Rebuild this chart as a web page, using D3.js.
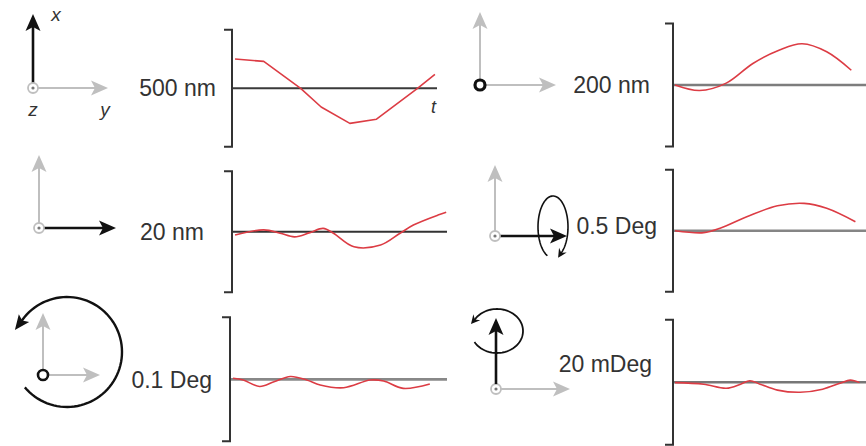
<!DOCTYPE html>
<html><head><meta charset="utf-8">
<script src="https://cdn.jsdelivr.net/npm/d3@7"></script>
<style>body{margin:0;background:#fff}svg{display:block}</style>
</head><body>
<svg id="c" width="866" height="446"></svg>
<script>
// ---- data ----
const scaleLabels = ["500 nm", "200 nm", "20 nm", "0.5 Deg", "0.1 Deg", "20 mDeg"];
const scaleSpans  = [500, 200, 20, 0.5, 0.1, 20];
const timeDomain  = [0, 10];

const t1 = [0.1, 1.5, 3.3, 4.3, 5.7, 7.0, 9.0, 9.85];
const v1 = [125, 115, 0, -80, -150, -132, 0, 60];

const t2 = [0, 1.2, 2.5, 3.8, 5.1, 6.2, 7.4, 8.6];
const v2 = [0, -9, 3, 35, 57, 67, 54, 24];

const t3 = [0.1, 1.5, 2.3, 3.0, 3.75, 4.4, 4.9, 5.9, 7.2, 8.15, 8.8, 10.0, 10.4];
const v3 = [-0.55, 0.3, -0.25, -0.85, -0.15, 0.55, -0.25, -2.5, -2.2, -0.25, 1.1, 2.75, 3.2];

const t4 = [0, 1.4, 2.2, 3.5, 5.0, 6.3, 7.4, 8.8];
const v4 = [0, -0.008, 0.01, 0.057, 0.102, 0.112, 0.092, 0.037];

const t5 = [0, 0.5, 1.3, 2.0, 2.8, 3.6, 4.25, 5.4, 6.7, 7.35, 8.3, 9.6];
const v5 = [0.0008, -0.0006, -0.0058, -0.002, 0.0023, -0.0006, -0.0046, -0.0068, -0.0006, -0.0014, -0.0073, -0.0038];

const t6 = [0, 1.4, 2.5, 3.2, 3.65, 4.15, 5.0, 6.1, 7.2, 8.05, 8.55, 9.0];
const v6 = [-0.05, -0.3, -0.95, -0.3, 0.25, -0.3, -1.25, -1.6, -1.1, -0.15, 0.35, -0.05];

const times  = [t1, t2, t3, t4, t5, t6];
const values = [v1, v2, v3, v4, v5, v6];

// ---- layout ----
const geom = [
  {bx: 232, zero: 88.3,  half: 58.5, end: 437, x0: 233, zc: "#3a3a3a", zw: 2,   curve: d3.curveLinear,     lx: 216, ly: 96},
  {bx: 673, zero: 85,    half: 61.5, end: 866, x0: 675, zc: "#7d7d7d", zw: 2.6, curve: d3.curveCatmullRom, lx: 650, ly: 93},
  {bx: 232, zero: 231.7, half: 60.5, end: 447, x0: 233, zc: "#333",    zw: 2,   curve: d3.curveCatmullRom, lx: 204, ly: 240},
  {bx: 673, zero: 230.7, half: 61,   end: 866, x0: 675, zc: "#858585", zw: 2.6, curve: d3.curveCatmullRom, lx: 657, ly: 234},
  {bx: 230, zero: 379.3, half: 62,   end: 447, x0: 233, zc: "#888",    zw: 2.8, curve: d3.curveCatmullRom, lx: 212, ly: 388},
  {bx: 673, zero: 382.3, half: 62.5, end: 866, x0: 675, zc: "#777",    zw: 2.4, curve: d3.curveCatmullRom, lx: 652, ly: 372}
];

const svg = d3.select("#c");
const FONT = "'Liberation Sans', Arial, Helvetica, sans-serif";
const RED = "#dc3c44";
const GRAY = "#bfbfbf";

geom.forEach((g, i) => {
  const x = d3.scaleLinear().domain(timeDomain).range([g.x0, g.x0 + 205]);
  const S = scaleSpans[i];
  const y = d3.scaleLinear().domain([-S / 2, S / 2]).range([g.zero + g.half, g.zero - g.half]);
  const G = svg.append("g");
  // zero line
  G.append("line").attr("x1", g.bx).attr("x2", g.end)
    .attr("y1", y(0)).attr("y2", y(0))
    .attr("stroke", g.zc).attr("stroke-width", g.zw);
  // scale bracket
  const yt = y(S / 2), yb = y(-S / 2);
  G.append("path")
    .attr("d", `M${g.bx - 8},${yt}H${g.bx}V${yb}H${g.bx - 8}`)
    .attr("fill", "none").attr("stroke", "#333").attr("stroke-width", 2);
  // label
  G.append("text").attr("x", g.lx).attr("y", g.ly).attr("text-anchor", "end")
    .attr("font-family", FONT).attr("font-size", 23).attr("fill", "#333")
    .text(scaleLabels[i]);
  // data line
  const pts = times[i].map((t, k) => [t, values[i][k]]);
  G.append("path").datum(pts)
    .attr("d", d3.line().x(d => x(d[0])).y(d => y(d[1])).curve(g.curve))
    .attr("fill", "none").attr("stroke", RED).attr("stroke-width", 1.6)
    .attr("stroke-linejoin", "round");
});

// "t" time label
svg.append("text").attr("x", 431).attr("y", 113).attr("font-family", FONT)
  .attr("font-style", "italic").attr("font-size", 18).attr("fill", "#333").text("t");

// ---- icons ----
function arrow(x1, y1, x2, y2, color, w) {
  const a = Math.atan2(y2 - y1, x2 - x1), dx = Math.cos(a), dy = Math.sin(a);
  const L = 17, W = 7.5, N = 4;
  svg.append("line").attr("x1", x1).attr("y1", y1)
    .attr("x2", x2 - (L - N) * dx).attr("y2", y2 - (L - N) * dy)
    .attr("stroke", color).attr("stroke-width", w);
  const p = [[x2, y2], [x2 - L * dx - W * dy, y2 - L * dy + W * dx],
             [x2 - (L - N) * dx, y2 - (L - N) * dy], [x2 - L * dx + W * dy, y2 - L * dy - W * dx]];
  svg.append("path").attr("d", "M" + p.join("L") + "Z").attr("fill", color);
}
function originGray(cx, cy) {
  svg.append("circle").attr("cx", cx).attr("cy", cy).attr("r", 5)
    .attr("fill", "#fff").attr("stroke", GRAY).attr("stroke-width", 1.8);
  svg.append("circle").attr("cx", cx).attr("cy", cy).attr("r", 1.6).attr("fill", "#777");
}
function originBlack(cx, cy, sw) {
  svg.append("circle").attr("cx", cx).attr("cy", cy).attr("r", 5)
    .attr("fill", "#fff").attr("stroke", "#111").attr("stroke-width", sw);
}
function rotArc(cx, cy, rx, ry, a0, a1, sw, L, W) {
  const n = 80, pts = [];
  for (let k = 0; k <= n; k++) {
    const th = (a0 + (a1 - a0) * k / n) * Math.PI / 180;
    pts.push([cx + rx * Math.cos(th), cy + ry * Math.sin(th)]);
  }
  const last = pts[n], prev = pts[n - 3];
  const a = Math.atan2(last[1] - prev[1], last[0] - prev[0]);
  const dx = Math.cos(a), dy = Math.sin(a);
  const tip = [last[0] + L * 0.6 * dx, last[1] + L * 0.6 * dy];
  svg.append("path").attr("d", d3.line()(pts)).attr("fill", "none")
    .attr("stroke", "#111").attr("stroke-width", sw);
  const p = [tip, [tip[0] - L * dx - W * dy, tip[1] - L * dy + W * dx],
             [tip[0] - (L - 3) * dx, tip[1] - (L - 3) * dy], [tip[0] - L * dx + W * dy, tip[1] - L * dy - W * dx]];
  svg.append("path").attr("d", "M" + p.join("L") + "Z").attr("fill", "#111");
}
function italic(x, y, s) {
  svg.append("text").attr("x", x).attr("y", y).attr("font-family", FONT)
    .attr("font-style", "italic").attr("font-size", 19).attr("fill", "#333")
    .attr("text-anchor", "middle").text(s);
}

// Panel 1: x translation
arrow(38, 88, 108, 88, GRAY, 2);
arrow(33, 84, 33, 14, "#111", 2.6);
originGray(33, 88);
italic(56, 21, "x"); italic(33, 116, "z"); italic(105, 116, "y");

// Panel 2: z translation
arrow(486, 85, 556, 85, GRAY, 2);
arrow(480, 79, 480, 12, GRAY, 2);
originBlack(480, 85, 3.2);

// Panel 3: y translation
arrow(39, 223, 39, 155, GRAY, 2);
arrow(43, 228, 116, 228, "#111", 2.6);
originGray(39, 228);

// Panel 4: rotation about y
arrow(495, 231, 495, 165, GRAY, 2);
arrow(499, 236, 567, 236, "#111", 2.6);
originGray(495, 236);
rotArc(553, 227, 15, 31, 112, 418, 1.6, 9, 4.5);

// Panel 5: rotation about z
arrow(43, 370, 43, 313, GRAY, 2);
arrow(49, 375, 100, 375, GRAY, 2);
originBlack(43, 375, 2.6);
rotArc(67, 352, 55, 55, 140, -148, 2.4, 15, 6.5);

// Panel 6: rotation about x
arrow(500, 389, 570, 389, GRAY, 2);
originGray(496, 389);
arrow(496, 384, 496, 318, "#111", 2.6);
rotArc(497, 331, 26, 22, 150, -150, 1.8, 9, 4.5);
</script>
</body></html>
